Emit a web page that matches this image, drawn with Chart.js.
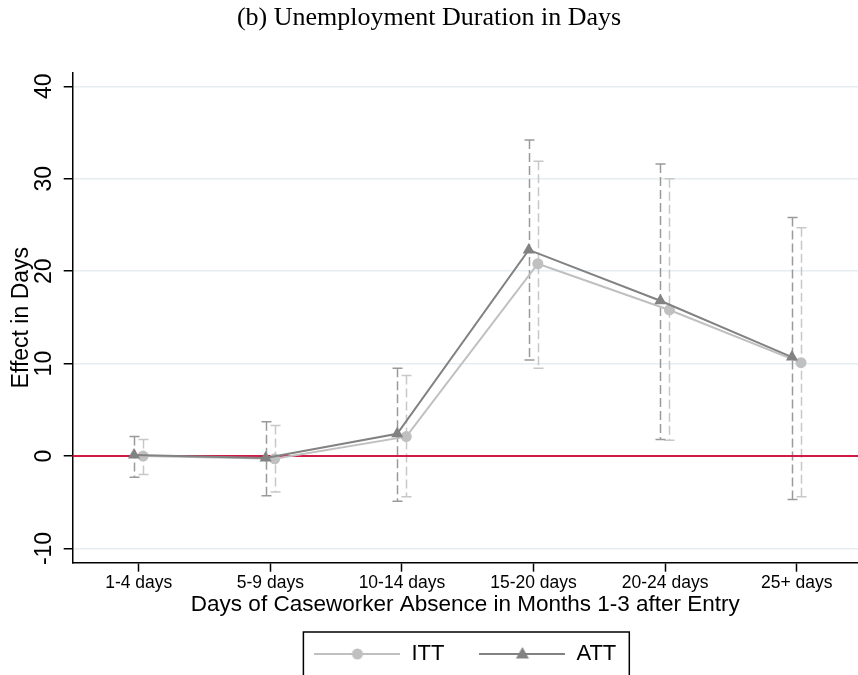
<!DOCTYPE html>
<html>
<head>
<meta charset="utf-8">
<script src="https://cdn.jsdelivr.net/npm/chart.js@4/dist/chart.umd.min.js"></script>
<style>
  body { margin: 0; background: #fff; }
  canvas { display: block; }
</style>
</head>
<body>
<canvas id="effChart" width="858" height="675"></canvas>
<script>
// categories and estimates (effect in days)
const categories = ['1-4 days', '5-9 days', '10-14 days', '15-20 days', '20-24 days', '25+ days'];
const ittEst = [0.0, -0.3, 2.1, 20.8, 15.8, 10.1];
const ittLo  = [-2.0, -3.9, -4.4, 9.5, 1.7, -4.4];
const ittHi  = [1.8, 3.3, 8.7, 31.9, 30.0, 24.7];
const attEst = [0.1, -0.2, 2.4, 22.3, 16.8, 10.7];
const attLo  = [-2.3, -4.3, -4.9, 10.4, 1.8, -4.7];
const attHi  = [2.1, 3.7, 9.5, 34.2, 31.6, 25.8];
const yTicks = [-10, 0, 10, 20, 30, 40];

const ITT_OFF = 0.033, ATT_OFF = -0.036;
const ittColor = '#c0c0c0', attColor = '#828282';

// legend icons: line with marker in the middle
function makeIcon(color, marker) {
    const c = document.createElement('canvas');
    c.width = 86; c.height = 22;
    const g = c.getContext('2d');
    g.strokeStyle = color; g.fillStyle = color; g.lineWidth = 2;
    g.beginPath(); g.moveTo(0, 11); g.lineTo(86, 11); g.stroke();
    g.beginPath();
    if (marker === 'circle') {
        g.arc(43, 11, 5.5, 0, Math.PI * 2);
    } else {
        g.moveTo(43, 4); g.lineTo(49.5, 15.5); g.lineTo(36.5, 15.5); g.closePath();
    }
    g.fill();
    return c;
}
const ittIcon = makeIcon(ittColor, 'circle');
const attIcon = makeIcon(attColor, 'triangle');

// dashed error bars with caps + red zero line
const extras = {
    id: 'extras',
    afterLayout(chart) {
        const lg = chart.legend;
        lg.left = chart.chartArea.left;
        lg.top = 608;
    },
    beforeDatasetsDraw(chart) {
        const { ctx, scales: { x, y }, chartArea } = chart;
        const bars = (lo, hi, off, color) => {
            ctx.save();
            ctx.strokeStyle = color;
            ctx.lineWidth = 1.5;
            lo.forEach((l, i) => {
                const px = Math.round(x.getPixelForValue(i + 1 + off)) + 0.5;
                const top = y.getPixelForValue(hi[i]);
                const bot = y.getPixelForValue(l);
                ctx.setLineDash([9, 4]);
                ctx.beginPath(); ctx.moveTo(px, top); ctx.lineTo(px, bot); ctx.stroke();
                ctx.setLineDash([]);
                ctx.beginPath();
                ctx.moveTo(px - 5, top); ctx.lineTo(px + 5, top);
                ctx.moveTo(px - 5, bot); ctx.lineTo(px + 5, bot);
                ctx.stroke();
            });
            ctx.restore();
        };
        bars(ittLo, ittHi, ITT_OFF, '#c8c8c8');
        bars(attLo, attHi, ATT_OFF, '#9a9a9a');
        const y0 = y.getPixelForValue(0);
        ctx.save();
        ctx.strokeStyle = '#d01c44';
        ctx.lineWidth = 2;
        ctx.beginPath(); ctx.moveTo(chartArea.left, y0); ctx.lineTo(chartArea.right, y0); ctx.stroke();
        ctx.restore();
    },
    afterDraw(chart) {
        const { ctx, scales: { y } } = chart;
        // rotated y tick labels
        ctx.save();
        ctx.fillStyle = '#000';
        ctx.font = '23px "Liberation Sans", Arial, sans-serif';
        ctx.textAlign = 'center';
        ctx.textBaseline = 'middle';
        yTicks.forEach(v => {
            ctx.save();
            ctx.translate(45, y.getPixelForValue(v));
            ctx.rotate(-Math.PI / 2);
            ctx.fillText(String(v), 0, 0);
            ctx.restore();
        });
        ctx.restore();
        // legend frame
        const hb = chart.legend.legendHitBoxes;
        if (hb && hb.length) {
            const first = hb[0], last = hb[hb.length - 1];
            const cy = first.top + first.height / 2;
            ctx.save();
            ctx.strokeStyle = '#000';
            ctx.lineWidth = 1.5;
            ctx.strokeRect(first.left - 11, cy - 22, last.left + last.width + 13 - (first.left - 11), 50);
            ctx.restore();
        }
    }
};

const ctx = document.getElementById('effChart').getContext('2d');
const chart = new Chart(ctx, {
    type: 'line',
    data: {
        datasets: [{
            label: 'ITT',
            data: ittEst.map((v, i) => ({ x: i + 1 + ITT_OFF, y: v })),
            borderColor: ittColor,
            backgroundColor: ittColor,
            borderWidth: 2,
            pointStyle: 'circle',
            pointRadius: 5.5,
            pointBorderWidth: 0,
            order: 1
        }, {
            label: 'ATT',
            data: attEst.map((v, i) => ({ x: i + 1 + ATT_OFF, y: v })),
            borderColor: attColor,
            backgroundColor: attColor,
            borderWidth: 2,
            pointStyle: 'triangle',
            pointRadius: 7,
            pointBorderWidth: 0,
            order: 0
        }]
    },
    options: {
        responsive: false,
        animation: false,
        devicePixelRatio: 1,
        layout: { padding: 0, autoPadding: false },
        scales: {
            x: {
                type: 'linear',
                min: 0.498,
                max: 6.466,
                afterBuildTicks: s => { s.ticks = categories.map((_, i) => ({ value: i + 1 })); },
                afterFit: s => { s.height = 54.3; s.paddingLeft = 0; s.paddingRight = 0; },
                grid: { drawOnChartArea: false, tickLength: 9, tickColor: '#000', tickWidth: 1.5 },
                border: { color: '#000', width: 1.5 },
                ticks: {
                    padding: 1,
                    color: '#000',
                    maxRotation: 0,
                    autoSkip: false,
                    font: { family: '"Liberation Sans", Arial, sans-serif', size: 17.5 },
                    callback: v => categories[Math.round(v) - 1]
                },
                title: {
                    display: true,
                    text: 'Days of Caseworker Absence in Months 1-3 after Entry',
                    color: '#000',
                    font: { family: '"Liberation Sans", Arial, sans-serif', size: 22.5, lineHeight: 1 },
                    padding: { top: 0, bottom: 1 }
                }
            },
            y: {
                min: -11.54,
                max: 41.47,
                afterBuildTicks: s => { s.ticks = yTicks.map(v => ({ value: v })); },
                afterFit: s => { s.width = 72.7; s.paddingTop = 0; s.paddingBottom = 0; },
                grid: { color: '#e6edf1', lineWidth: 1.5, tickLength: 9, tickColor: '#000', tickWidth: 1.5 },
                border: { color: '#000', width: 1.5 },
                ticks: { display: false },
                title: {
                    display: true,
                    text: 'Effect in Days',
                    color: '#000',
                    font: { family: '"Liberation Sans", Arial, sans-serif', size: 23, lineHeight: 1 },
                    padding: { top: 10.5, bottom: 0 }
                }
            }
        },
        plugins: {
            title: {
                display: true,
                text: '(b) Unemployment Duration in Days',
                color: '#000',
                font: { family: '"Liberation Serif", "DejaVu Serif", serif', size: 26, weight: 'normal', lineHeight: 1.2 },
                padding: { top: 2.4, bottom: 39.1 }
            },
            legend: {
                position: 'bottom',
                maxHeight: 58,
                labels: {
                    usePointStyle: true,
                    pointStyleWidth: 86,
                    padding: 35,
                    color: '#000',
                    font: { family: '"Liberation Sans", Arial, sans-serif', size: 22 },
                    generateLabels: () => [
                        { text: 'ITT', pointStyle: ittIcon, fontColor: '#000', datasetIndex: 0, hidden: false, lineWidth: 0 },
                        { text: 'ATT', pointStyle: attIcon, fontColor: '#000', datasetIndex: 1, hidden: false, lineWidth: 0 }
                    ]
                }
            },
            tooltip: { enabled: false }
        }
    },
    plugins: [extras]
});
</script>
</body>
</html>
